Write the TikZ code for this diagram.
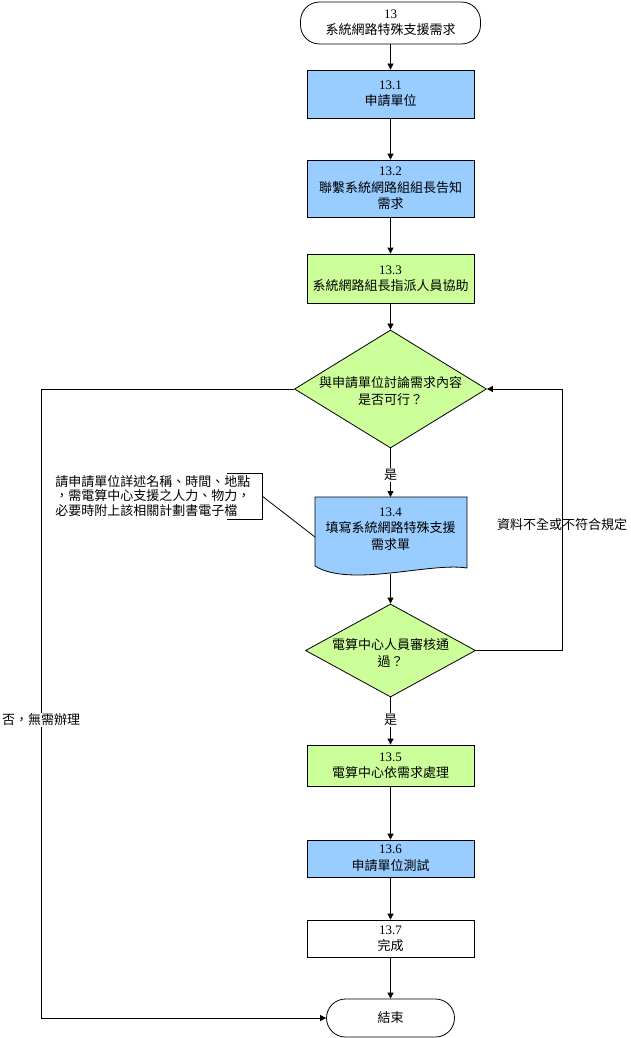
\documentclass[tikz,border=0pt]{standalone}
\usepackage{fontspec}
\setmainfont{Liberation Serif}
\newfontfamily\cjk{Noto Sans CJK TC}
\newcommand\zh[1]{{\cjk #1}}
\usetikzlibrary{arrows.meta,shapes.geometric}
\definecolor{stepblue}{RGB}{153,204,255}
\definecolor{stepgreen}{RGB}{204,255,153}
\tikzset{
  every node/.style={font=\fontsize{13}{16.5}\selectfont},
  term/.style={draw, rounded corners=19pt, align=center, inner sep=0pt},
  procbox/.style={draw, fill=stepblue, align=center, inner sep=0pt, minimum width=167pt},
  workbox/.style={procbox, fill=stepgreen},
  decide/.style={draw, diamond, fill=stepgreen, inner sep=0pt},
  arr/.style={-{Triangle[length=6pt,width=6pt]}},
  edgelabel/.style={fill=white, inner sep=1pt},
}
\begin{document}
\begin{tikzpicture}[x=1pt,y=-1pt,line width=0.8pt]
\useasboundingbox (0,0) rectangle (630,1038);
% main column
\node[term, minimum width=180pt, minimum height=42pt] (start) at (390.5,23) {13\\\zh{系統網路特殊支援需求}};
\node[procbox, minimum height=48pt] (s1) at (390.5,94) {13.1\\\zh{申請單位}};
\node[procbox, minimum height=57pt] (s2) at (390.5,188.5) {13.2\\\zh{聯繫系統網路組組長告知}\\\zh{需求}};
\node[workbox, minimum height=49pt] (s3) at (390.5,278.5) {13.3\\\zh{系統網路組長指派人員協助}};
\node[decide, minimum width=192pt, minimum height=118pt] (d1) at (390.5,389) {};
\node[align=center] (d1text) at (390.5,391) {\zh{與申請單位討論需求內容}\\\zh{是否可行？}};
% form shape
\draw[fill=stepblue] (315,497) -- (467,497) -- (467,568) .. controls (430,562) and (350,588) .. (315,566) -- cycle;
\node[align=center] (form) at (390.5,529) {13.4\\\zh{填寫系統網路特殊支援}\\\zh{需求單}};
\coordinate (formtop) at (390.5,497);
\coordinate (formbot) at (390.5,574);
\coordinate (formleft) at (315,537);
\node[decide, minimum width=170pt, minimum height=93pt] (d2) at (390.5,650.5) {};
\node[align=center] (d2text) at (390.5,653) {\zh{電算中心人員審核通}\\\zh{過？}};
\node[workbox, minimum height=41pt] (s5) at (390.5,765.5) {13.5\\\zh{電算中心依需求處理}};
\node[procbox, minimum height=37pt] (s6) at (390.5,858.5) {13.6\\\zh{申請單位測試}};
\node[procbox, fill=white, minimum height=37pt] (s7) at (390.5,938.5) {13.7\\\zh{完成}};
\node[term, minimum width=128pt, minimum height=38pt] (end) at (390.5,1018) {\zh{結束}};
% note
\node[align=left, anchor=west, inner sep=0pt, font=\fontsize{13}{14.5}\selectfont] (note) at (55,496) {\zh{請申請單位詳述名稱、時間、地點}\\\zh{，需電算中心支援之人力、物力，}\\\zh{必要時附上該相關計劃書電子檔}};
\draw (227,473) -- (262,473) -- (262,519) -- (227,519);
\coordinate (notetip) at (262,496);
\draw (notetip) -- (formleft);
% arrows
\draw[arr] (start) -- (s1);
\draw[arr] (s1) -- (s2);
\draw[arr] (s2) -- (s3);
\draw[arr] (s3) -- (d1);
\draw[arr] (d1.south) -- (formtop);
\draw[arr] (formbot) -- (d2.north);
\draw[arr] (d2.south) -- (s5);
\draw[arr] (s5) -- (s6);
\draw[arr] (s6) -- (s7);
\draw[arr] (s7) -- (end);
\coordinate (fbcorner) at (562,650.5);
\draw[arr] (d2.east) -- (fbcorner) |- (d1.east);
\coordinate (nocorner) at (41,1018);
\draw[arr] (d1.west) -| (nocorner) -- (end.west);
% labels
\node[edgelabel] (yes1) at (390.5,475) {\zh{是}};
\node[edgelabel] (yes2) at (390.5,720) {\zh{是}};
\node (fblabel) at (562,525) {\zh{資料不全或不符合規定}};
\node[edgelabel] (nolabel) at (41,720) {\zh{否，無需辦理}};
\end{tikzpicture}
\end{document}
